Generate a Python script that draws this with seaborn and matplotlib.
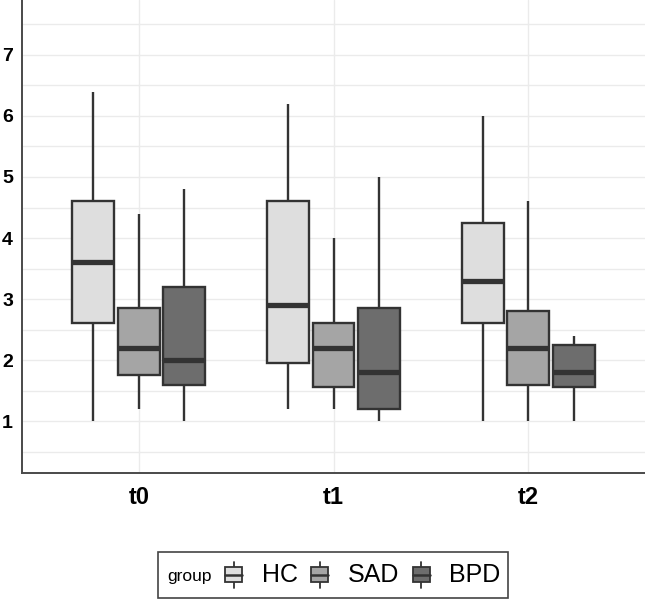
import numpy as np
import pandas as pd
import matplotlib
matplotlib.use("Agg")
import matplotlib.pyplot as plt
import seaborn as sns
from matplotlib.legend_handler import HandlerBase
from matplotlib.patches import Rectangle
from matplotlib.lines import Line2D

# five-number summaries: min, Q1, median, Q3, max
times = ["t0", "t1", "t2"]
groups = ["HC", "SAD", "BPD"]
hc_t0 = [1.0, 2.6, 3.6, 4.6, 6.4]
sad_t0 = [1.2, 1.75, 2.2, 2.85, 4.4]
bpd_t0 = [1.0, 1.6, 2.0, 3.2, 4.8]
hc_t1 = [1.2, 1.95, 2.9, 4.6, 6.2]
sad_t1 = [1.2, 1.56, 2.2, 2.6, 4.0]
bpd_t1 = [1.0, 1.2, 1.8, 2.85, 5.0]
hc_t2 = [1.0, 2.6, 3.3, 4.25, 6.0]
sad_t2 = [1.0, 1.6, 2.2, 2.8, 4.6]
bpd_t2 = [1.0, 1.56, 1.8, 2.24, 2.4]
fills = ["#dedede", "#a5a5a5", "#6d6d6d"]

summ = {("t0", "HC"): hc_t0, ("t0", "SAD"): sad_t0, ("t0", "BPD"): bpd_t0,
        ("t1", "HC"): hc_t1, ("t1", "SAD"): sad_t1, ("t1", "BPD"): bpd_t1,
        ("t2", "HC"): hc_t2, ("t2", "SAD"): sad_t2, ("t2", "BPD"): bpd_t2}
rows = []
for (t, g), vals in summ.items():
    for v in vals:
        rows.append({"time": t, "group": g, "value": v})
df = pd.DataFrame(rows)

sns.set_theme(style="white")
plt.rcParams['font.family'] = ['Liberation Sans', 'DejaVu Sans']

fig = plt.figure(figsize=(6.45, 6.0), dpi=100)
ax = fig.add_axes([22/645, 127/600, 1 - 22/645, 1 - 127/600])

edge = "#333333"
sns.boxplot(data=df, x="time", y="value", hue="group", order=times, hue_order=groups,
            palette=fills, whis=(0, 100), width=0.7, gap=0.08, showcaps=False,
            linecolor=edge, linewidth=1.7, ax=ax, legend=False,
            medianprops={"linewidth": 3.8, "color": edge, "solid_capstyle": "butt"},
            whiskerprops={"linewidth": 1.7})

ax.set_xlim(-0.6, 2.6)
ax.set_ylim(0.15, 7.9)
ax.set_yticks([1, 2, 3, 4, 5, 6, 7])
ax.set_yticks(np.arange(0.5, 8, 1.0), minor=True)
ax.grid(True, which="both", axis="y", color="#ebebeb", linewidth=1.0)
ax.grid(True, which="major", axis="x", color="#ebebeb", linewidth=1.0)
ax.set_axisbelow(True)
for s in ["top", "right"]:
    ax.spines[s].set_visible(False)
for s in ["left", "bottom"]:
    ax.spines[s].set_color("#4a4a4a")
    ax.spines[s].set_linewidth(1.4)
ax.tick_params(axis="both", which="both", length=0)
ax.tick_params(axis="y", labelsize=14, pad=6.5)
ax.tick_params(axis="x", labelsize=17, pad=9)
for lab in ax.get_yticklabels() + ax.get_xticklabels():
    lab.set_fontweight("bold")
    lab.set_color("black")
ax.set_xlabel("")
ax.set_ylabel("")


class BoxHandler(HandlerBase):
    def create_artists(self, legend, orig, xd, yd, w, h, fontsize, trans):
        fc = orig.get_facecolor()
        cx = xd + w / 2
        r = Rectangle((xd + w * 0.05, yd), w * 0.9, h * 0.85,
                      facecolor=fc, edgecolor=edge, linewidth=1.3, transform=trans)
        m = Line2D([xd + w * 0.05, xd + w * 0.95], [yd + h * 0.42] * 2, color=edge,
                   linewidth=1.8, transform=trans)
        wl = Line2D([cx, cx], [yd - h * 0.35, yd + h * 1.15], color=edge,
                    linewidth=1.3, transform=trans)
        return [wl, r, m]


handles = [Rectangle((0, 0), 1, 1, facecolor=c) for c in fills]
leg = fig.legend(handles, groups, handler_map={Rectangle: BoxHandler()},
                 ncol=3, frameon=False, loc="center left",
                 bbox_to_anchor=(207/645, 1 - 575/600), fontsize=18,
                 handlelength=0.75, handleheight=0.7, handletextpad=0.75,
                 columnspacing=0.5, borderpad=0.2, labelcolor="black")
fig.text(167/645, 1 - 576/600, "group", fontsize=12.5, va="center", ha="left",
         color="black")
fig.patches.append(Rectangle((158/645, 1 - 598/600), 350/645, 46/600,
                             transform=fig.transFigure, fill=False,
                             edgecolor="#444444", linewidth=1.2))

fig.savefig("out.png", dpi=100)
